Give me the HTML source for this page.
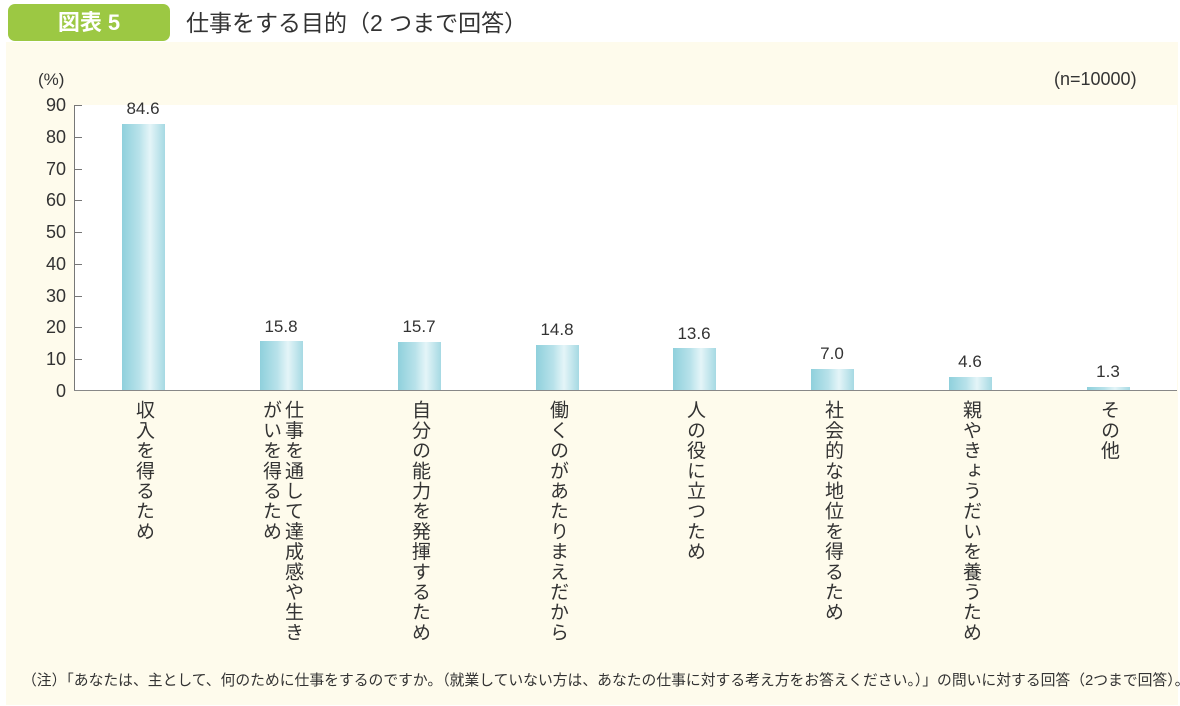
<!DOCTYPE html>
<html><head><meta charset="utf-8"><style>
body{margin:0;width:1180px;height:706px;background:#fff;position:relative;overflow:hidden;font-family:"Liberation Sans","Noto Sans CJK JP",sans-serif;color:#333}
.a{position:absolute}
.panel{left:6px;top:42px;width:1172px;height:663px;background:#fefbec}
.plot{left:74px;top:105px;width:1103px;height:286px;background:#fff}
.badge{left:8px;top:4px;width:162px;height:37px;background:#9cc843;border-radius:7px;color:#fff;font-size:22px;font-weight:bold;text-align:center;line-height:37px}
.title{left:186px;top:6px;font-size:23px;line-height:34px;color:#333}
.yl{left:20px;width:46px;text-align:right;font-size:18px;line-height:18px}
.tick{left:75px;width:7px;height:1px;background:#777}
.bar{width:43px;background:linear-gradient(90deg,#8fd0dc 0%,#b8e2ea 40%,#e4f5f8 65%,#a6d9e3 100%)}
.val{width:80px;text-align:center;font-size:17px}
.lab{writing-mode:vertical-rl;font-size:19px;line-height:22px;letter-spacing:1.2px;top:400px;color:#333}
</style></head><body>
<div class="a panel"></div>
<div class="a plot"></div>
<div class="a badge">図表 5</div>
<div class="a title">仕事をする目的（2 つまで回答）</div>
<div class="a" style="left:38px;top:70px;font-size:17px">(%)</div>
<div class="a" style="left:1054px;top:69px;font-size:18px">(n=10000)</div>
<div class="a" style="left:74px;top:105px;width:1px;height:286px;background:#777"></div>
<div class="a" style="left:74px;top:390px;width:1103px;height:1px;background:#888"></div>
<div class="a yl" style="top:96px">90</div><div class="a tick" style="top:105px"></div>
<div class="a yl" style="top:128px">80</div><div class="a tick" style="top:137px"></div>
<div class="a yl" style="top:160px">70</div><div class="a tick" style="top:169px"></div>
<div class="a yl" style="top:191px">60</div><div class="a tick" style="top:200px"></div>
<div class="a yl" style="top:223px">50</div><div class="a tick" style="top:232px"></div>
<div class="a yl" style="top:255px">40</div><div class="a tick" style="top:264px"></div>
<div class="a yl" style="top:287px">30</div><div class="a tick" style="top:296px"></div>
<div class="a yl" style="top:318px">20</div><div class="a tick" style="top:327px"></div>
<div class="a yl" style="top:350px">10</div><div class="a tick" style="top:359px"></div>
<div class="a yl" style="top:382px">0</div>

<div class="a bar" style="left:122px;top:124px;height:266px"></div><div class="a val" style="left:103px;top:99px">84.6</div>
<div class="a bar" style="left:260px;top:341px;height:49px"></div><div class="a val" style="left:241px;top:317px">15.8</div>
<div class="a bar" style="left:398px;top:342px;height:48px"></div><div class="a val" style="left:379px;top:317px">15.7</div>
<div class="a bar" style="left:536px;top:345px;height:45px"></div><div class="a val" style="left:517px;top:320px">14.8</div>
<div class="a bar" style="left:673px;top:348px;height:42px"></div><div class="a val" style="left:654px;top:324px">13.6</div>
<div class="a bar" style="left:811px;top:369px;height:21px"></div><div class="a val" style="left:792px;top:344px">7.0</div>
<div class="a bar" style="left:949px;top:377px;height:13px"></div><div class="a val" style="left:930px;top:352px">4.6</div>
<div class="a bar" style="left:1087px;top:387px;height:3px"></div><div class="a val" style="left:1068px;top:362px">1.3</div>

<div class="a lab" style="left:132px">収入を得るため</div>
<div class="a lab" style="left:259px">仕事を通して達成感や生き<br>がいを得るため</div>
<div class="a lab" style="left:408px">自分の能力を発揮するため</div>
<div class="a lab" style="left:546px">働くのがあたりまえだから</div>
<div class="a lab" style="left:683px">人の役に立つため</div>
<div class="a lab" style="left:821px">社会的な地位を得るため</div>
<div class="a lab" style="left:959px">親やきょうだいを養うため</div>
<div class="a lab" style="left:1097px">その他</div>

<div class="a" style="left:22px;top:669px;font-size:14.8px;white-space:nowrap">（注）「あなたは、主として、何のために仕事をするのですか。（就業していない方は、あなたの仕事に対する考え方をお答えください。）」の問いに対する回答（2つまで回答）。</div>
</body></html>
